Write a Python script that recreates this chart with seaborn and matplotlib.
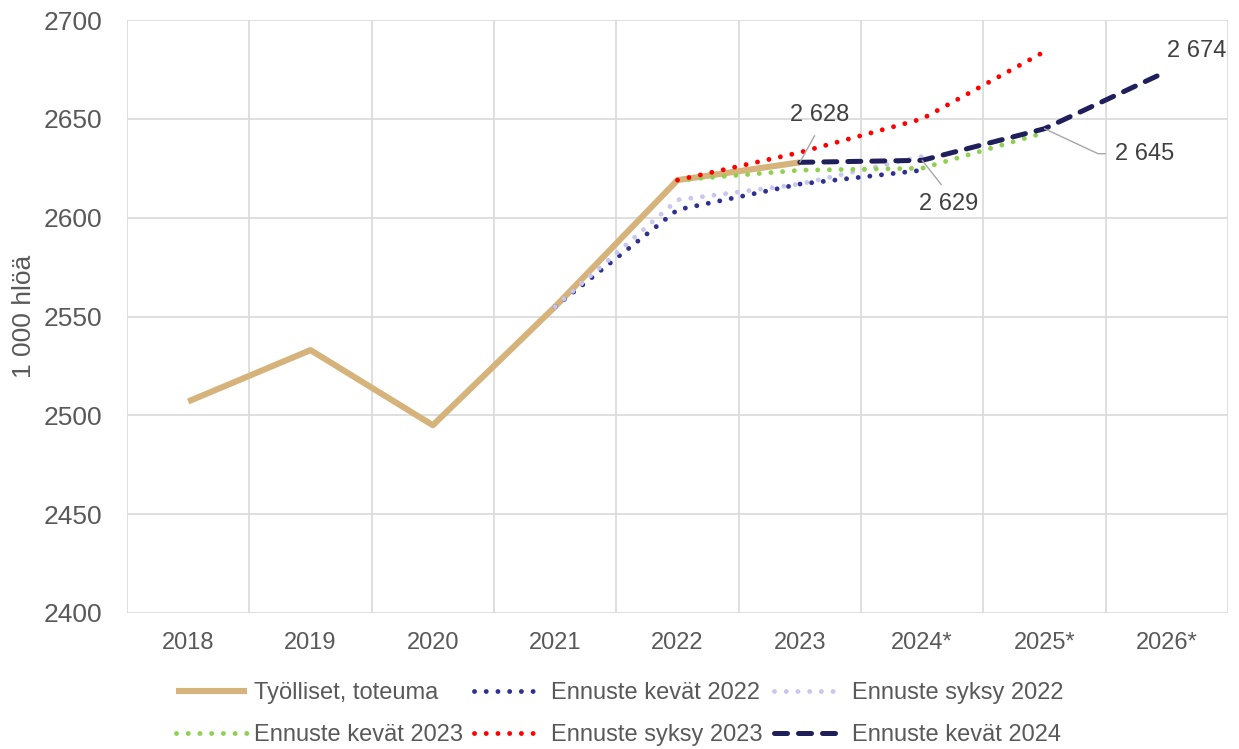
"""
Työlliset ja ennusteet 2018-2026 (1 000 hlöä).
"""
import numpy as np
import pandas as pd
import matplotlib
matplotlib.use('Agg')
import matplotlib.pyplot as plt
import seaborn as sns

nan = np.nan

# Data
years = ['2018', '2019', '2020', '2021', '2022', '2023', '2024*', '2025*', '2026*']
toteuma = [2507, 2533, 2495, 2555, 2619, 2628, nan, nan, nan]
kevat_2022 = [nan, nan, nan, 2555, 2604, 2617, 2624, nan, nan]
syksy_2022 = [nan, nan, nan, 2555, 2609, 2617, 2631, nan, nan]
kevat_2023 = [nan, nan, nan, nan, 2619, 2624, 2625, 2643, nan]
syksy_2023 = [nan, nan, nan, nan, 2619, 2633, 2650, 2684, nan]
kevat_2024 = [nan, nan, nan, nan, nan, 2628, 2629, 2645, 2674]

series_names = ['Työlliset, toteuma', 'Ennuste kevät 2022', 'Ennuste syksy 2022',
                'Ennuste kevät 2023', 'Ennuste syksy 2023', 'Ennuste kevät 2024']
series_values = [toteuma, kevat_2022, syksy_2022, kevat_2023, syksy_2023, kevat_2024]

# (year index, value) of labelled points
labels = [(5, 2628), (6, 2629), (7, 2645), (8, 2674)]

sns.set_theme(style='white')
plt.rcParams['font.family'] = ['Liberation Sans', 'DejaVu Sans']

dot = (0, (0.01, 2.4))
styles = {
    'Työlliset, toteuma': dict(color='#D6B37B', lw=4.4, linestyle='-', solid_capstyle='butt'),
    'Ennuste kevät 2022': dict(color='#2E3192', lw=3.5, linestyle=dot, dash_capstyle='round'),
    'Ennuste syksy 2022': dict(color='#C9C7EE', lw=3.5, linestyle=dot, dash_capstyle='round'),
    'Ennuste kevät 2023': dict(color='#8FD14F', lw=3.5, linestyle=dot, dash_capstyle='round'),
    'Ennuste syksy 2023': dict(color='#FF0000', lw=3.5, linestyle=dot, dash_capstyle='round'),
    'Ennuste kevät 2024': dict(color='#1F1F5C', lw=3.6, linestyle=(0, (2.6, 2.2)), dash_capstyle='round'),
}

fig = plt.figure(figsize=(12.39, 7.49), dpi=100)
ax = fig.add_axes([127 / 1239, 1 - 613 / 749, (1228 - 127) / 1239, (613 - 20) / 749])

x = np.arange(len(years))
for name, vals in zip(series_names, series_values):
    df = pd.DataFrame({'x': x, 'y': vals}).dropna()
    sns.lineplot(data=df, x='x', y='y', ax=ax, label=name, estimator=None,
                 sort=False, **styles[name])

# axes and grid
ax.set_xlim(-0.5, len(years) - 0.5)
ax.set_ylim(2400, 2700)
ax.set_yticks(np.arange(2400, 2701, 50))
ax.set_xticks(x)
ax.set_xticklabels(years)
ax.set_xticks(np.arange(-0.5, len(years), 1.0), minor=True)
ax.grid(True, which='major', axis='y', color='#D9D9D9', lw=1.2)
ax.grid(True, which='minor', axis='x', color='#D9D9D9', lw=1.2)
ax.grid(False, which='major', axis='x')
for s in ax.spines.values():
    s.set_visible(False)
ax.tick_params(axis='y', length=0, pad=18, labelsize=19, labelcolor='#595959')
ax.tick_params(axis='x', which='both', length=0, pad=14, labelsize=17, labelcolor='#595959')
ax.set_xlabel('')
ax.set_ylabel('1 000 hlöä', fontsize=19, color='#595959')
ax.yaxis.set_label_coords(-0.083, 0.5)

# value labels with leader lines
lead = dict(arrowstyle='-', color='#A6A6A6', lw=1.0, shrinkB=0)
ax.annotate(f'{labels[0][1]:,}'.replace(',', ' '), xy=labels[0], xytext=(20, 36),
            textcoords='offset pixels', ha='center', va='bottom', fontsize=17, color='#404040',
            arrowprops=dict(relpos=(0.5, 0), shrinkA=5, **lead))
ax.annotate(f'{labels[1][1]:,}'.replace(',', ' '), xy=labels[1], xytext=(26, -33),
            textcoords='offset pixels', ha='center', va='top', fontsize=17, color='#404040',
            arrowprops=dict(relpos=(0.5, 1), shrinkA=5, **lead))
ax.annotate(f'{labels[2][1]:,}'.replace(',', ' '), xy=labels[2], xytext=(71, -25),
            textcoords='offset pixels', ha='left', va='center', fontsize=17, color='#404040',
            arrowprops=dict(relpos=(0, 0.5), shrinkA=5,
                            connectionstyle='angle,angleA=0,angleB=-25,rad=0', **lead))
ax.annotate(f'{labels[3][1]:,}'.replace(',', ' '), xy=labels[3], xytext=(0, 20),
            textcoords='offset pixels', ha='left', va='center', fontsize=17, color='#404040')

# legend in two rows, filled row by row
handles, names = ax.get_legend_handles_labels()
ax.get_legend().remove()
order = [0, 3, 1, 4, 2, 5]
fig.legend([handles[i] for i in order], [names[i] for i in order], ncol=3,
           loc='lower center', bbox_to_anchor=(0.5, 0.004), frameon=False,
           fontsize=17, labelcolor='#595959', handlelength=3.0, handletextpad=0.3,
           columnspacing=0.45, labelspacing=0.85, borderaxespad=0.0, borderpad=0.0)

fig.savefig('out.png', dpi=100)
